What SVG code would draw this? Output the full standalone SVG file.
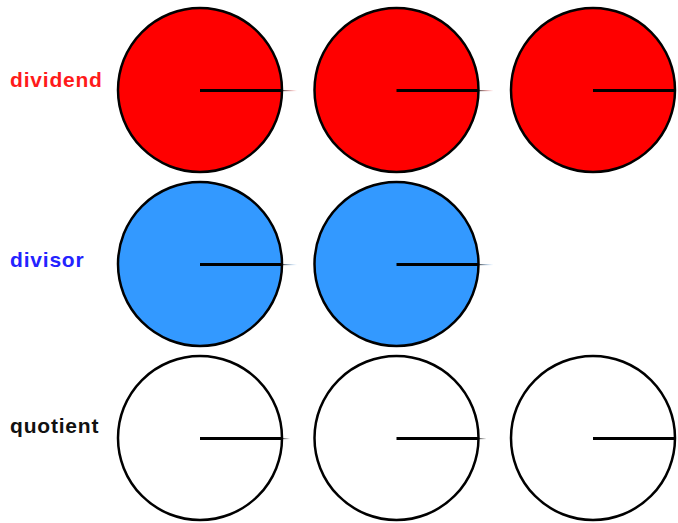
<svg xmlns="http://www.w3.org/2000/svg" width="678" height="523" viewBox="0 0 678 523">
<defs>
<linearGradient id="tipR" x1="0" x2="1" y1="0" y2="0"><stop offset="0" stop-color="#000" stop-opacity="0.7"/><stop offset="1" stop-color="#ff0000" stop-opacity="0"/></linearGradient>
<linearGradient id="tipB" x1="0" x2="1" y1="0" y2="0"><stop offset="0" stop-color="#000" stop-opacity="0.7"/><stop offset="1" stop-color="#3399ff" stop-opacity="0"/></linearGradient>
<linearGradient id="tipK" x1="0" x2="1" y1="0" y2="0"><stop offset="0" stop-color="#000" stop-opacity="0.7"/><stop offset="1" stop-color="#000" stop-opacity="0"/></linearGradient>
</defs>
<style>
.c{stroke:#000;stroke-width:2.5}
.red{fill:#ff0000}
.blue{fill:#3399ff}
.white{fill:#fff}
.hand{stroke:#000;stroke-width:3;stroke-linecap:butt}
.lbl{font-family:"Liberation Sans",Arial,sans-serif;font-weight:bold;font-size:21px;letter-spacing:0.8px}
</style>
<rect width="678" height="523" fill="#fff"/>
<g id="label-dividend"><text class="lbl" x="10" y="87" fill="#ff1a1a">dividend</text></g>
<g id="label-divisor"><text class="lbl" x="10" y="267" fill="#2323ff">divisor</text></g>
<g id="label-quotient"><text class="lbl" x="10" y="433" fill="#111">quotient</text></g>

<g id="dividend-1"><circle class="c red" cx="200" cy="90" r="82"/></g>
<g id="dividend-2"><circle class="c red" cx="396.5" cy="90" r="82"/></g>
<g id="dividend-3"><circle class="c red" cx="593" cy="90" r="82"/></g>
<g id="divisor-1"><circle class="c blue" cx="200" cy="264" r="82"/></g>
<g id="divisor-2"><circle class="c blue" cx="396.5" cy="264" r="82"/></g>
<g id="quotient-1"><circle class="c white" cx="200" cy="438" r="82"/></g>
<g id="quotient-2"><circle class="c white" cx="396.5" cy="438" r="82"/></g>
<g id="quotient-3"><circle class="c white" cx="593" cy="438" r="82"/></g>

<g id="hands">
<line class="hand" x1="200" y1="90.5" x2="282" y2="90.5"/>
<rect x="282" y="90" width="15" height="1.2" fill="url(#tipR)"/>
<line class="hand" x1="396.5" y1="90.5" x2="478.5" y2="90.5"/>
<rect x="478.5" y="90" width="15" height="1.2" fill="url(#tipR)"/>
<line class="hand" x1="593" y1="90.5" x2="675" y2="90.5"/>
<line class="hand" x1="200" y1="264.5" x2="282" y2="264.5"/>
<rect x="282" y="264" width="15" height="1.2" fill="url(#tipB)"/>
<line class="hand" x1="396.5" y1="264.5" x2="478.5" y2="264.5"/>
<rect x="478.5" y="264" width="15" height="1.2" fill="url(#tipB)"/>
<line class="hand" x1="200" y1="438.5" x2="282" y2="438.5"/>
<rect x="282" y="438" width="8" height="1.2" fill="url(#tipK)"/>
<line class="hand" x1="396.5" y1="438.5" x2="478.5" y2="438.5"/>
<rect x="478.5" y="438" width="8" height="1.2" fill="url(#tipK)"/>
<line class="hand" x1="593" y1="438.5" x2="675" y2="438.5"/>
</g>
</svg>
